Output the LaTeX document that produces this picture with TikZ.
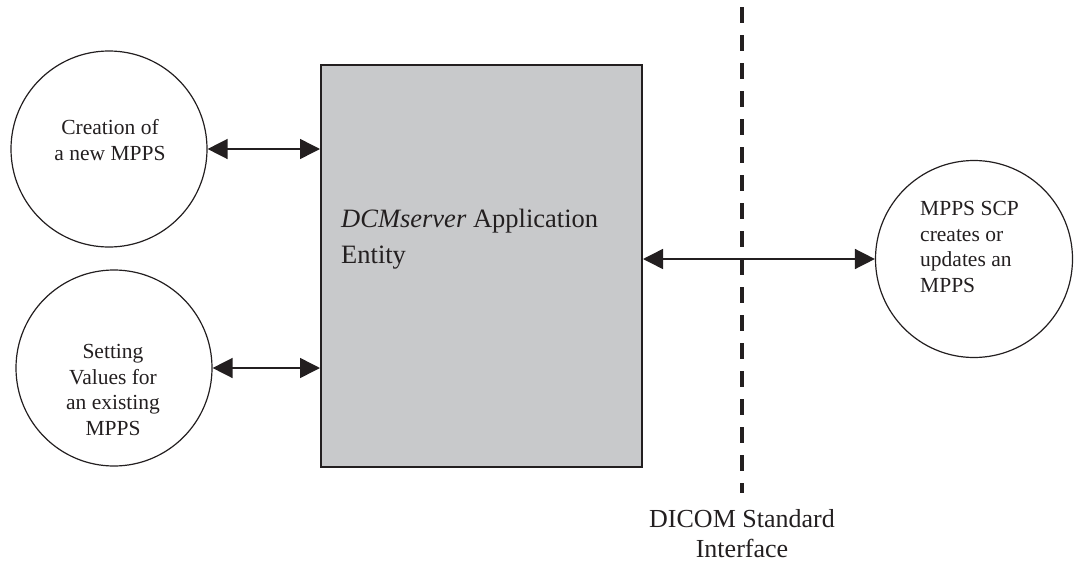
\documentclass[tikz,border=0pt]{standalone}
\usepackage{fontspec}
\setmainfont{Liberation Serif}
\usetikzlibrary{arrows.meta,calc}
\definecolor{boxGray}{HTML}{C8C9CB}
\definecolor{inkBlack}{HTML}{231F20}

\begin{document}
\begin{tikzpicture}[x=1pt,y=-1pt]
    \pgfmathsetmacro{\r}{98}	%circle radius
    \pgfmathsetmacro{\tip}{20}	%arrow tip size
    \useasboundingbox (0,0) rectangle (1078,562);

    \coordinate (C1) at (109,149);
    \coordinate (C2) at (114,368);
    \coordinate (C3) at (974,259);
    \coordinate (B) at (481.5,266);
    \coordinate (I1) at (742,7);
    \coordinate (I2) at (742,493);

    \tikzset{
        bubble/.style={draw=inkBlack, line width=1.2pt, circle, minimum size=2*\r pt, inner sep=0pt},
        bubbletext/.style={font=\fontsize{21.5}{25.5}\selectfont, align=center, inner sep=0pt, text=inkBlack},
        aebox/.style={draw=inkBlack, line width=2pt, fill=boxGray, minimum width=321pt, minimum height=402pt, inner sep=0pt},
        bigtext/.style={font=\fontsize{26.5}{36}\selectfont, align=left, inner sep=0pt, text=inkBlack},
        link/.style={draw=inkBlack, line width=1.5pt, {Triangle[length=\tip pt,width=\tip pt]}-{Triangle[length=\tip pt,width=\tip pt]}},
        border/.style={draw=inkBlack, line width=4pt, dash pattern=on 16pt off 12pt}
    };

    % boundary of the standard
    \draw[border] (I1) -- (I2);

    \node[aebox] (ae) at (B) {};
    \node[bigtext, anchor=west] (aetext) at (341,239) {\textit{DCMserver} Application\\Entity};

    \node[bubble] (create) at (C1) {};
    \node[bubbletext] (createtext) at (110,140) {Creation of\\a new MPPS};
    \node[bubble] (set) at (C2) {};
    \node[bubbletext] (settext) at (113,390) {Setting\\Values for\\an existing\\MPPS};
    \node[bubble, minimum size=197pt] (scp) at (C3) {};
    \node[bubbletext, align=left, anchor=west] (scptext) at (920,247) {MPPS SCP\\creates or\\updates an\\MPPS};

    \node[bigtext, align=center, font=\fontsize{26}{30}\selectfont] (dicom) at (742,534) {DICOM Standard\\Interface};

    \draw[link] (create.east) -- (create.east -| ae.west);
    \draw[link] (set.east) -- (set.east -| ae.west);
    \draw[link] (scp.west -| ae.east) -- (scp.west);
\end{tikzpicture}
\end{document}
